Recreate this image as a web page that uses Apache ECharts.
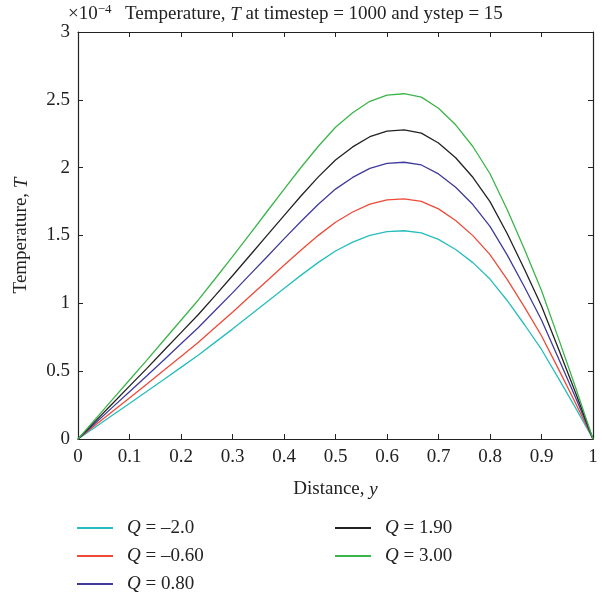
<!DOCTYPE html>
<html><head><meta charset="utf-8">
<script src="https://cdn.jsdelivr.net/npm/echarts@6/dist/echarts.min.js"></script>
<style>html,body{margin:0;padding:0;background:#fff}#c{width:602px;height:598px}</style>
</head><body><div id="c"></div>
<script>
// Distance y (31 samples), values in units of 1e-4
const yPos = [0,0.0333,0.0667,0.1,0.1333,0.1667,0.2,0.2333,0.2667,0.3,0.3333,0.3667,0.4,0.4333,0.4667,0.5,0.5333,0.5667,0.6,0.6333,0.6667,0.7,0.7333,0.7667,0.8,0.8333,0.8667,0.9,0.9333,0.9667,1];
const qNeg20 = [0,0.087,0.175,0.262,0.350,0.439,0.528,0.617,0.714,0.810,0.910,1.010,1.110,1.208,1.302,1.386,1.451,1.501,1.529,1.535,1.520,1.471,1.397,1.300,1.179,1.021,0.844,0.660,0.445,0.226,0];
const qNeg060 = [0,0.101,0.202,0.303,0.404,0.506,0.609,0.712,0.823,0.935,1.050,1.165,1.280,1.393,1.501,1.598,1.673,1.731,1.763,1.770,1.752,1.696,1.611,1.499,1.359,1.177,0.974,0.761,0.513,0.260,0];
const q080 = [0,0.116,0.233,0.349,0.465,0.583,0.702,0.820,0.949,1.077,1.210,1.342,1.475,1.605,1.730,1.842,1.928,1.995,2.032,2.040,2.020,1.954,1.856,1.728,1.567,1.357,1.122,0.877,0.592,0.300,0];
const q190 = [0,0.130,0.260,0.390,0.519,0.652,0.784,0.916,1.059,1.203,1.351,1.499,1.647,1.793,1.932,2.057,2.153,2.228,2.269,2.278,2.255,2.182,2.073,1.929,1.750,1.515,1.253,0.980,0.661,0.335,0];
const q300 = [0,0.145,0.290,0.435,0.580,0.728,0.875,1.023,1.183,1.344,1.509,1.675,1.840,2.003,2.158,2.298,2.405,2.489,2.535,2.545,2.520,2.438,2.316,2.156,1.955,1.692,1.400,1.094,0.738,0.374,0];
const seriesNames = ['Q = –2.0','Q = –0.60','Q = 0.80','Q = 1.90','Q = 3.00'];
const seriesData = [qNeg20,qNeg060,q080,q190,q300];
const colors = ['#27bdbd','#ef4a38','#3f3b9c','#222222','#3bb54a'];
const xTicks = [0,0.1,0.2,0.3,0.4,0.5,0.6,0.7,0.8,0.9,1];
const yTicks = [0,0.5,1,1.5,2,2.5,3];

const FONT = '"Liberation Serif", "DejaVu Serif", serif';
const FS = 19;
const chart = echarts.init(document.getElementById('c'));
const axisLine = {show:true, onZero:false, lineStyle:{color:'#222', width:1.2}};
const tick = {show:true, inside:true, length:5, lineStyle:{color:'#222', width:1}};
function fmtX(v){ return String(Math.round(v*10)/10); }
const legendFmt = n => '{i|Q}' + n.slice(1).replace(/=/, ' = ').replace(/  /g,' ');
const legendCommon = {
  orient:'vertical', itemWidth:36, itemHeight:2, itemGap:8, icon:'rect', padding:0,
  textStyle:{fontFamily:FONT, fontSize:FS, lineHeight:20, color:'#222', padding:[0,0,0,9],
    rich:{i:{fontFamily:FONT, fontStyle:'italic', fontSize:FS, lineHeight:20, color:'#222'}}},
  formatter: legendFmt
};
chart.setOption({
  animation:false,
  color: colors,
  grid:{left:78, right:9, top:32, bottom:159, containLabel:false},
  xAxis:[{
    type:'value', min:0, max:1, interval:0.1, position:'bottom',
    axisLine, axisTick:tick, splitLine:{show:false},
    axisLabel:{fontFamily:FONT, fontSize:FS, color:'#222', margin:9, formatter:fmtX},
    name:'Distance, {i|y}', nameLocation:'middle', nameGap:41,
    nameTextStyle:{fontFamily:FONT, fontSize:FS, color:'#222',
      rich:{i:{fontFamily:FONT, fontStyle:'italic', fontSize:FS, color:'#222'}}}
  },{
    type:'value', min:0, max:1, interval:0.1, position:'top',
    axisLine, axisTick:tick, axisLabel:{show:false}, splitLine:{show:false}
  }],
  yAxis:[{
    type:'value', min:0, max:3, interval:0.5, position:'left',
    axisLine, axisTick:tick, splitLine:{show:false},
    axisLabel:{fontFamily:FONT, fontSize:FS, color:'#222', margin:8},
    name:'Temperature, {i|T}', nameLocation:'middle', nameGap:47, nameRotate:90,
    nameTextStyle:{fontFamily:FONT, fontSize:FS, color:'#222',
      rich:{i:{fontFamily:FONT, fontStyle:'italic', fontSize:FS, color:'#222'}}}
  },{
    type:'value', min:0, max:3, interval:0.5, position:'right',
    axisLine, axisTick:tick, axisLabel:{show:false}, splitLine:{show:false}
  }],
  legend:[
    Object.assign({left:77, top:518, data:seriesNames.slice(0,3)}, legendCommon),
    Object.assign({left:335, top:518, data:seriesNames.slice(3)}, legendCommon)
  ],
  graphic:[{
    type:'text', left:68, top:3,
    style:{text:'×10{s|−4}', fontFamily:FONT, fontSize:FS, fill:'#222',
      rich:{s:{fontFamily:FONT, fontSize:13, fill:'#222', verticalAlign:'top', padding:[0,0,10,0]}}}
  },{
    type:'text', left:125, top:5,
    style:{text:'Temperature, {i|T} at timestep = 1000 and ystep = 15', fontFamily:FONT, fontSize:FS, fill:'#222',
      rich:{i:{fontFamily:FONT, fontStyle:'italic', fontSize:FS, fill:'#222'}}}
  }],
  series: seriesData.map((d,i)=>({
    name: seriesNames[i], type:'line', showSymbol:false, smooth:false,
    lineStyle:{width:1.3, color:colors[i]}, itemStyle:{color:colors[i]},
    data: yPos.map((x,j)=>[x, d[j]])
  }))
});
</script></body></html>
